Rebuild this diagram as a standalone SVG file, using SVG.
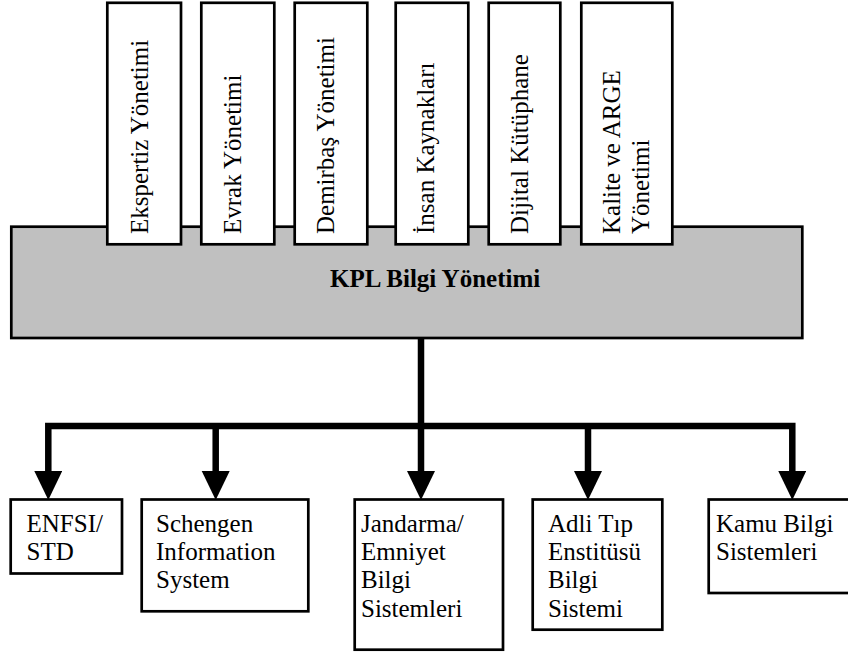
<svg xmlns="http://www.w3.org/2000/svg" width="848" height="655" viewBox="0 0 848 655">
<style>
.box{fill:#fff;stroke:#000;stroke-width:2.7}
.main{fill:#c0c0c0;stroke:#000;stroke-width:2.7}
.t{font-family:"Liberation Serif","Times New Roman",serif;font-size:25px;fill:#000}
.b{font-weight:bold}
.c{fill:none;stroke:#000;stroke-width:6.5;stroke-linejoin:miter}
</style>
<defs>
<marker id="ah" markerUnits="userSpaceOnUse" markerWidth="30" markerHeight="30" viewBox="0 0 30 30" refX="1" refY="14" orient="auto">
<path d="M0,0 L29,14 L0,28 z" fill="#000"/>
</marker>
</defs>
<rect width="848" height="655" fill="#fff"/>
<g id="kpl">
<rect class="main" x="11.3" y="226.7" width="791" height="111.3"/>
<text class="t b" x="330" y="287">KPL Bilgi Yönetimi</text>
</g>
<g id="ekspertiz">
<rect class="box" x="107.3" y="2.8" width="73.7" height="241.5"/>
<text class="t" transform="translate(147.5,234) rotate(-90)">Ekspertiz Yönetimi</text>
</g>
<g id="evrak">
<rect class="box" x="201.3" y="2.8" width="73" height="241.5"/>
<text class="t" transform="translate(240.5,234) rotate(-90)">Evrak Yönetimi</text>
</g>
<g id="demirbas">
<rect class="box" x="294.7" y="2.8" width="72.6" height="241.5"/>
<text class="t" transform="translate(334,234) rotate(-90)">Demirbaş Yönetimi</text>
</g>
<g id="insan">
<rect class="box" x="395.7" y="2.8" width="72.6" height="241.5"/>
<text class="t" transform="translate(434,234) rotate(-90)">İnsan Kaynakları</text>
</g>
<g id="dijital">
<rect class="box" x="488.7" y="2.8" width="71.6" height="241.5"/>
<text class="t" transform="translate(528,234) rotate(-90)">Dijital Kütüphane</text>
</g>
<g id="kalite">
<rect class="box" x="581.3" y="2.8" width="91" height="241.5"/>
<text class="t" transform="translate(620,234) rotate(-90)">Kalite ve ARGE</text>
<text class="t" transform="translate(649,234) rotate(-90)">Yönetimi</text>
</g>
<g id="connectors">
<line class="c" x1="421" y1="338" x2="421" y2="472" marker-end="url(#ah)"/>
<path class="c" d="M421,426 H48.3 V472" marker-end="url(#ah)"/>
<path class="c" d="M421,426 H792.3 V472" marker-end="url(#ah)"/>
<line class="c" x1="215.7" y1="426" x2="215.7" y2="472" marker-end="url(#ah)"/>
<line class="c" x1="588" y1="426" x2="588" y2="472" marker-end="url(#ah)"/>
</g>
<g id="enfsi">
<rect class="box" x="10.7" y="499.5" width="111.3" height="74"/>
<text class="t" x="26.5" y="531.7">ENFSI/</text>
<text class="t" x="26.5" y="560">STD</text>
</g>
<g id="schengen">
<rect class="box" x="141.7" y="499.5" width="166.6" height="111.8"/>
<text class="t" x="156" y="531.7">Schengen</text>
<text class="t" x="156" y="560">Information</text>
<text class="t" x="156" y="588.3">System</text>
</g>
<g id="jandarma">
<rect class="box" x="354.7" y="499.5" width="148.3" height="150.2"/>
<text class="t" x="361" y="531.7">Jandarma/</text>
<text class="t" x="361" y="560">Emniyet</text>
<text class="t" x="361" y="588.3">Bilgi</text>
<text class="t" x="361" y="616.7">Sistemleri</text>
</g>
<g id="adli">
<rect class="box" x="532.7" y="499.5" width="129.6" height="130.2"/>
<text class="t" x="548" y="531.7">Adli Tıp</text>
<text class="t" x="548" y="560">Enstitüsü</text>
<text class="t" x="548" y="588.3">Bilgi</text>
<text class="t" x="548" y="616.7">Sistemi</text>
</g>
<g id="kamu">
<rect class="box" x="708.7" y="499.5" width="145" height="93.5"/>
<text class="t" x="716" y="531.7">Kamu Bilgi</text>
<text class="t" x="716" y="560">Sistemleri</text>
</g>
</svg>
